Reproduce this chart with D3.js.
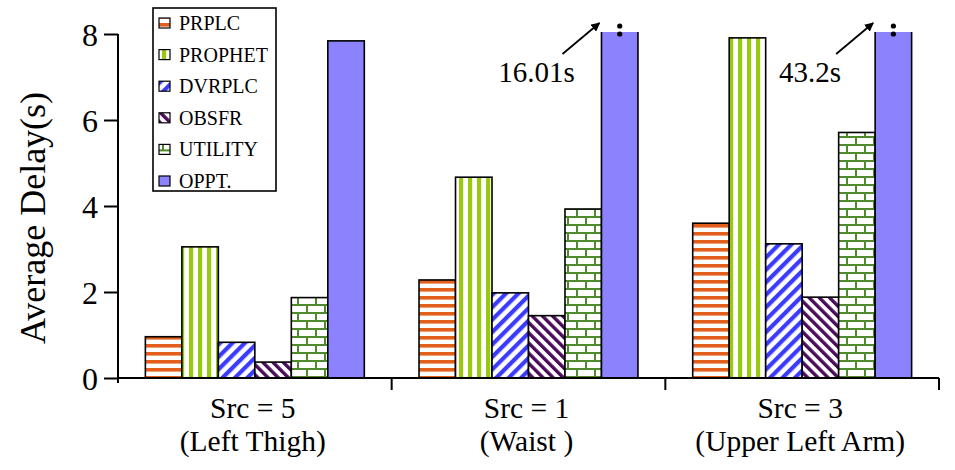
<!DOCTYPE html>
<html>
<head>
<meta charset="utf-8">
<script src="https://cdn.jsdelivr.net/npm/d3@7/dist/d3.min.js"></script>
<style>
html,body{margin:0;padding:0;background:#fff;}
</style>
</head>
<body>
<svg id="chart" width="955" height="470"></svg>
<script>
// ---- data ----
const groups = ["Src = 5", "Src = 1", "Src = 3"];
const groupSub = ["(Left Thigh)", "(Waist )", "(Upper Left Arm)"];
const seriesNames = ["PRPLC", "PROPHET", "DVRPLC", "OBSFR", "UTILITY", "OPPT."];
const PRPLC   = [0.96, 2.28, 3.60];
const PROPHET = [3.05, 4.67, 7.91];
const DVRPLC  = [0.83, 1.98, 3.12];
const OBSFR   = [0.37, 1.45, 1.88];
const UTILITY = [1.87, 3.93, 5.71];
const OPPT    = [7.84, 16.01, 43.2];
const yTicks = [0, 2, 4, 6, 8];
const breakLabels = [null, "16.01s", "43.2s"];

const seriesValues = [PRPLC, PROPHET, DVRPLC, OBSFR, UTILITY, OPPT];

const FONT = "'Liberation Serif', 'Times New Roman', Times, 'DejaVu Serif', serif";
const svg = d3.select("#chart").style("font-family", FONT);
const mLeft = 118, mRight = 939, mTop = 34, mBottom = 378;

const x0 = d3.scaleBand().domain(groups).range([mLeft, mRight]).paddingInner(0).paddingOuter(0);
const x1 = d3.scaleBand().domain(seriesNames).range([0, x0.bandwidth()]).paddingInner(0).paddingOuter(0.75);
const y = d3.scaleLinear().domain([0, 8]).range([mBottom, mTop]);

function txt(sel) { return sel.style("font-family", FONT).attr("fill", "#000"); }

// ---- patterns ----
const defs = svg.append("defs");
function stripePattern(id, size, thick, color, transform, vertical) {
  const p = defs.append("pattern").attr("id", id).attr("patternUnits", "userSpaceOnUse")
    .attr("width", size).attr("height", size);
  if (transform) p.attr("patternTransform", transform);
  p.append("rect").attr("width", size).attr("height", size).attr("fill", "#fff");
  if (vertical) p.append("rect").attr("x", 0).attr("y", 0).attr("width", thick).attr("height", size).attr("fill", color);
  else p.append("rect").attr("x", 0).attr("y", 0).attr("width", size).attr("height", thick).attr("fill", color);
}
stripePattern("pPRPLC", 8, 3.6, "#e2601c", null, false);
stripePattern("pPROPHET", 9, 4.2, "#99c90e", null, true);
stripePattern("pDVRPLC", 8.8, 4.2, "#3b3bff", "rotate(45)", true);
stripePattern("pOBSFR", 7.2, 3.4, "#4c0c5c", "rotate(-45)", true);
(function () {
  const w = 18, h = 16, c = "#4f8a2c", t = 2;
  const p = defs.append("pattern").attr("id", "pUTILITY").attr("patternUnits", "userSpaceOnUse")
    .attr("width", w).attr("height", h);
  p.append("rect").attr("width", w).attr("height", h).attr("fill", "#fff");
  p.append("rect").attr("x", 0).attr("y", 0).attr("width", w).attr("height", t).attr("fill", c);
  p.append("rect").attr("x", 0).attr("y", h / 2).attr("width", w).attr("height", t).attr("fill", c);
  p.append("rect").attr("x", 0).attr("y", 0).attr("width", t).attr("height", h / 2).attr("fill", c);
  p.append("rect").attr("x", w / 2).attr("y", h / 2).attr("width", t).attr("height", h / 2).attr("fill", c);
})();
const fills = ["url(#pPRPLC)", "url(#pPROPHET)", "url(#pDVRPLC)", "url(#pOBSFR)", "url(#pUTILITY)", "#8c82fd"];

defs.append("clipPath").attr("id", "plotClip").append("rect")
  .attr("x", 0).attr("y", y(8) - 2).attr("width", 955).attr("height", 470);

defs.append("marker").attr("id", "arrow").attr("viewBox", "0 0 10 10").attr("refX", 9).attr("refY", 5)
  .attr("markerWidth", 5).attr("markerHeight", 5).attr("orient", "auto")
  .append("path").attr("d", "M0,0 L10,5 L0,10 z").attr("fill", "#000");

// ---- bars ----
const barData = [];
groups.forEach((g, gi) => {
  seriesNames.forEach((s, si) => barData.push({ g, s, si, v: seriesValues[si][gi] }));
});
svg.append("g").attr("clip-path", "url(#plotClip)")
  .selectAll("rect").data(barData).join("rect")
  .attr("x", d => x0(d.g) + x1(d.s))
  .attr("y", d => y(d.v))
  .attr("width", x1.bandwidth())
  .attr("height", d => y(0) - y(d.v))
  .attr("fill", d => fills[d.si])
  .attr("stroke", "#000").attr("stroke-width", 1.6);

// ---- break annotations ----
groups.forEach((g, gi) => {
  if (!breakLabels[gi]) return;
  const bx = x0(g) + x1("OPPT.");
  const cx = bx + x1.bandwidth() / 2;
  svg.append("circle").attr("cx", cx).attr("cy", y(8) - 8).attr("r", 2.6).attr("fill", "#000");
  svg.append("circle").attr("cx", cx).attr("cy", y(8)).attr("r", 2.6).attr("fill", "#000");
  svg.append("line").attr("x1", bx - 39).attr("y1", y(8) + 20).attr("x2", bx - 2).attr("y2", y(8) - 11)
    .attr("stroke", "#000").attr("stroke-width", 1.8).attr("marker-end", "url(#arrow)");
  txt(svg.append("text")).attr("x", bx - 65).attr("y", y(8) + 48).attr("text-anchor", "middle")
    .attr("font-size", 29).text(breakLabels[gi]);
});

// ---- axes ----
const yAxis = d3.axisLeft(y).tickValues(yTicks).tickSize(14).tickPadding(6).tickFormat(d3.format("d"));
const yg = svg.append("g").attr("transform", `translate(${mLeft},0)`).call(yAxis);
yg.attr("font-family", null).style("font-family", FONT);
yg.select(".domain").attr("d", `M0,${mTop}V${mBottom + 5}`).attr("stroke", "#000").attr("stroke-width", 2);
yg.selectAll(".tick line").attr("stroke", "#000").attr("stroke-width", 2);
txt(yg.selectAll(".tick text")).attr("font-size", 32).attr("dy", "0.36em");

const xg = svg.append("g");
xg.append("line").attr("x1", mLeft).attr("x2", mRight).attr("y1", y(0)).attr("y2", y(0))
  .attr("stroke", "#000").attr("stroke-width", 2);
xg.selectAll("line.sep").data(groups).join("line").attr("class", "sep")
  .attr("x1", d => x0(d) + x0.bandwidth()).attr("x2", d => x0(d) + x0.bandwidth())
  .attr("y1", y(0)).attr("y2", y(0) + 12).attr("stroke", "#000").attr("stroke-width", 2);
txt(xg.selectAll("text.l1").data(groups).join("text").attr("class", "l1"))
  .attr("x", d => x0(d) + x0.bandwidth() / 2 - 2).attr("y", 418).attr("text-anchor", "middle")
  .attr("font-size", 29.5).text(d => d);
txt(xg.selectAll("text.l2").data(groups).join("text").attr("class", "l2"))
  .attr("x", d => x0(d) + x0.bandwidth() / 2 - 2).attr("y", 451).attr("text-anchor", "middle")
  .attr("font-size", 29.5).text((d, i) => groupSub[i]);

txt(svg.append("text")).attr("transform", `translate(45,${(mTop + mBottom) / 2 + 12}) rotate(-90)`)
  .attr("text-anchor", "middle").attr("font-size", 36).text("Average Delay(s)");

// ---- legend ----
const lg = svg.append("g").attr("transform", "translate(153,8)");
lg.append("rect").attr("width", 123).attr("height", 183).attr("fill", "#fff")
  .attr("stroke", "#000").attr("stroke-width", 1.6);
const items = lg.selectAll("g.item").data(seriesNames).join("g").attr("class", "item")
  .attr("transform", (d, i) => `translate(0,${15 + i * 31.6})`);
items.append("rect").attr("x", 6).attr("y", -5).attr("width", 11).attr("height", 10)
  .attr("fill", (d, i) => fills[i]).attr("stroke", "#000").attr("stroke-width", 1.2);
txt(items.append("text")).attr("x", 26).attr("y", 7).attr("font-size", 20).text(d => d);
</script>
</body>
</html>
